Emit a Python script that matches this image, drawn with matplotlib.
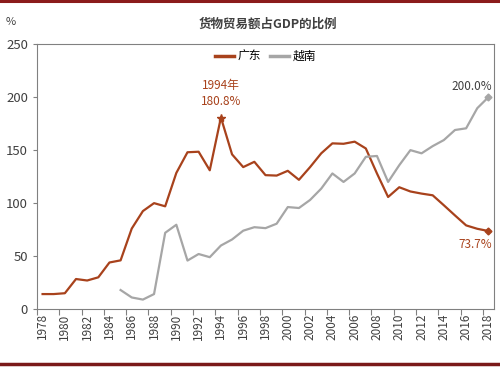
import matplotlib
matplotlib.use('Agg')
import matplotlib.pyplot as plt
from matplotlib.lines import Line2D

plt.rcParams['font.family'] = ['Noto Sans CJK SC', 'DejaVu Sans']

years = list(range(1978, 2019))
guangdong = [14.2, 14.2, 15, 28.4, 27, 30, 44, 46, 76, 92.5, 100, 97, 128.5, 148, 148.5, 131,
             180.8, 146, 134, 139, 126.4, 126, 130.5, 122, 134, 147, 156.4, 156, 158, 151.6,
             128, 105.8, 115, 111, 109, 107.4, 98, 88.4, 79, 75.8, 73.7]
vn_years = list(range(1985, 2019))
vietnam = [18, 11, 9, 14.2, 72, 79.6, 45.8, 52, 49, 60, 65.7, 74, 77.3, 76.4, 80.6, 96.3, 95.4,
           103, 113.7, 128, 120, 128, 143.7, 144.5, 120, 135.8, 150, 147, 153.8, 159.5, 169,
           170.6, 189.6, 200]
label_years = list(range(1978, 2019, 2))

red = '#A8421C'
grey = '#A6A6A6'

fig = plt.figure(figsize=(5, 3.68), dpi=100)
ax = fig.add_axes([0.074, 0.160, 0.914, 0.720])

ax.plot(years, guangdong, color=red, lw=1.6, label='广东')
ax.plot(vn_years, vietnam, color=grey, lw=1.6, label='越南')

# highlighted points
ax.plot(1994, 180.8, marker='*', color=red, ms=6)
ax.plot(2018, 73.7, marker='D', color=red, ms=3.5)
ax.plot(2018, 200, marker='D', color=grey, ms=3.5)
ax.text(1994, 190, '1994年\n180.8%', color=red, fontsize=8.5, ha='center', va='bottom', linespacing=1.3)
ax.text(2018.3, 204, '200.0%', color='#404040', fontsize=8.5, ha='right', va='bottom')
ax.text(2018.3, 67, '73.7%', color=red, fontsize=8.5, ha='right', va='top')

ax.set_xlim(1977.5, 2018.5)
ax.set_ylim(0, 250)
ax.set_yticks(range(0, 251, 50))
ax.tick_params(axis='y', labelsize=9.5, length=3, color='#808080', colors='#404040')

ax.set_xticks([y - 0.5 for y in label_years])
ax.set_xticklabels([])
ax.set_xticks(label_years, minor=True)
ax.set_xticklabels([str(y) for y in label_years], minor=True, rotation=90)
ax.tick_params(axis='x', which='major', length=4, color='#808080', direction='out')
ax.tick_params(axis='x', which='minor', length=0, labelsize=8.5, colors='#404040', pad=3)

for s in ax.spines.values():
    s.set_color('#808080')
    s.set_linewidth(0.8)

handles = [Line2D([], [], color=red, lw=2.5), Line2D([], [], color=grey, lw=2.5)]
ax.legend(handles, ['广东', '越南'], loc='upper center', bbox_to_anchor=(0.5, 1.0), ncol=2,
          frameon=False, fontsize=8.5, handlelength=1.6, columnspacing=0.8, handletextpad=0.3,
          borderaxespad=0.1)

fig.text(0.536, 0.933, '货物贸易额占GDP的比例', ha='center', va='center', fontsize=9,
         fontweight='bold', color='#404040')
fig.text(0.012, 0.94, '%', ha='left', va='center', fontsize=8, color='#404040')

fig.add_artist(Line2D([0, 1], [0.998, 0.998], color='#8B1C1C', lw=2.2, transform=fig.transFigure))
fig.add_artist(Line2D([0, 1], [0.010, 0.010], color='#7A1A1A', lw=2.5, transform=fig.transFigure))

fig.savefig('out.png', dpi=100)
